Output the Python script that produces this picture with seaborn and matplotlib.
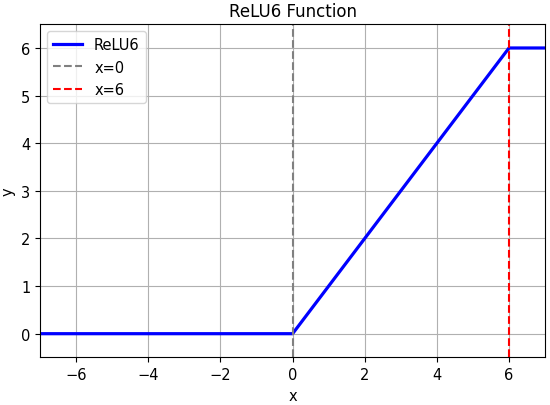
import matplotlib
matplotlib.use("Agg")
import matplotlib.pyplot as plt
import seaborn as sns
import pandas as pd

# ReLU6 breakpoints
x_vals = [-7, 0, 6, 7]
y_vals = [0, 0, 6, 6]
vlines = [0, 6]
vline_labels = ["x=0", "x=6"]
vline_colors = ["gray", "red"]

df = pd.DataFrame({"x": x_vals, "y": y_vals})

plt.rcParams["font.size"] = 10.5

fig = plt.figure(figsize=(5.5, 4.06), dpi=100)
ax = fig.add_axes([0.073, 0.117, 0.918, 0.821])

sns.lineplot(data=df, x="x", y="y", ax=ax, color="blue", linewidth=2.3, label="ReLU6")
for xv, lab, c in zip(vlines, vline_labels, vline_colors):
    ax.axvline(xv, color=c, linestyle="--", linewidth=1.5, label=lab)

ax.set_xlim(-7, 7)
ax.set_ylim(-0.5, 6.5)
ax.set_title("ReLU6 Function", fontsize=12)
ax.set_xlabel("x")
ax.set_ylabel("y")
ax.grid(True)
ax.legend(loc="upper left")

fig.savefig("out.png", dpi=100)
